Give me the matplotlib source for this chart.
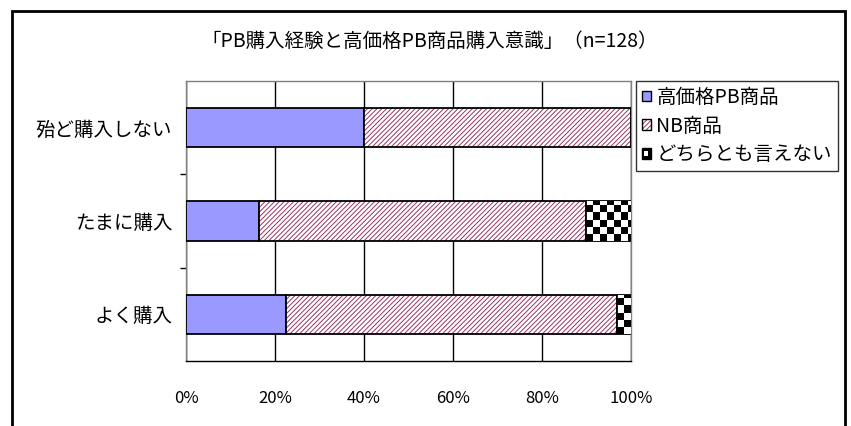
import numpy as np
import matplotlib
matplotlib.use("Agg")
import matplotlib.pyplot as plt
from matplotlib.patches import Patch, Rectangle
from matplotlib.legend_handler import HandlerTuple

plt.rcParams['font.family'] = ['Noto Sans CJK JP', 'DejaVu Sans']
plt.rcParams['hatch.linewidth'] = 0.7

# purchase frequency of PB goods (bottom -> top)
categories = ['よく購入', 'たまに購入', '殆ど購入しない']
high_pb = [22.5, 16.4, 40.0]
nb_goods = [74.4, 73.5, 60.0]
neither = [3.1, 10.1, 0.0]
series_labels = ['高価格PB商品', 'NB商品', 'どちらとも言えない']
xticks = [0, 20, 40, 60, 80, 100]
title = '「PB購入経験と高価格PB商品購入意識」（n=128）'

PB_COLOR = '#9999ff'
NB_HATCH = '#993366'
HATCH = '///////'

fig = plt.figure(figsize=(8.51, 4.26), dpi=100)
ax = fig.add_axes([186 / 851, 1 - 361 / 426, 445 / 851, 280 / 426])

y = np.arange(len(categories))
h = 0.42
left_nb = np.array(high_pb)
left_ot = left_nb + np.array(nb_goods)

ax.barh(y, high_pb, h, color=PB_COLOR, edgecolor='black', linewidth=1.3, zorder=3)
ax.barh(y, nb_goods, h, left=left_nb, facecolor='white', edgecolor=NB_HATCH,
        hatch=HATCH, linewidth=0, zorder=3)
ax.barh(y, nb_goods, h, left=left_nb, fill=False, edgecolor='black', linewidth=1.3, zorder=4)
ot_bars = ax.barh(y, neither, h, left=left_ot, facecolor='white', edgecolor='black',
                  linewidth=1.3, zorder=3)

ax.set_xlim(0, 100)
ax.set_ylim(-0.5, len(categories) - 0.5)

# checkerboard fill for the "neither" segments
cell_px = 7.0
ax_w_px = 445.0
ax_h_px = 280.0
cell_x = cell_px / ax_w_px * 100
cell_y = cell_px / ax_h_px * len(categories)
for bar in ot_bars:
    bw = bar.get_width()
    if bw <= 0:
        continue
    bx, by, bh = bar.get_x(), bar.get_y(), bar.get_height()
    nx = int(np.ceil(bw / cell_x))
    ny = int(np.ceil(bh / cell_y))
    board = (np.add.outer(np.arange(ny), np.arange(nx)) % 2).astype(float)
    im = ax.imshow(board, cmap='gray', vmin=0, vmax=1, interpolation='nearest',
                   extent=[bx, bx + nx * cell_x, by, by + ny * cell_y],
                   aspect='auto', origin='lower', zorder=3.5)
    im.set_clip_path(bar)
ax.set_xlim(0, 100)
ax.set_ylim(-0.5, len(categories) - 0.5)

ax.set_xticks(xticks)
ax.set_xticklabels([f'{t}%' for t in xticks], fontsize=12)
ax.tick_params(axis='x', length=0, pad=21)
ax.set_yticks(y)
ax.set_yticklabels(categories, fontsize=14)
ax.tick_params(axis='y', which='major', length=0, pad=10)
ax.set_yticks(np.arange(len(categories) - 1) + 0.5, minor=True)
ax.tick_params(axis='y', which='minor', length=4, width=1, color='black', direction='out')

ax.xaxis.grid(True, color='black', linewidth=1.0, zorder=1)
ax.set_axisbelow(True)
for side in ['left', 'top', 'right']:
    ax.spines[side].set_color('#808080')
ax.spines['bottom'].set_color('black')
for sp in ax.spines.values():
    sp.set_linewidth(1.0)


class CheckerHandler:
    def legend_artist(self, legend, orig_handle, fontsize, handlebox):
        x0, y0 = -handlebox.xdescent, -handlebox.ydescent
        w, hh = handlebox.width, handlebox.height
        box = Rectangle((x0, y0), w, hh, facecolor='black', edgecolor='black',
                        linewidth=1.0, transform=handlebox.get_transform())
        hole = Rectangle((x0 + w * 0.3, y0 + hh * 0.3), w * 0.4, hh * 0.4,
                         facecolor='white', edgecolor='none',
                         transform=handlebox.get_transform())
        handlebox.add_artist(box)
        handlebox.add_artist(hole)
        return box


h_pb = Patch(facecolor=PB_COLOR, edgecolor='black', linewidth=1.0)
h_nb = (Patch(facecolor='white', edgecolor=NB_HATCH, hatch=HATCH, linewidth=0),
        Patch(fill=False, edgecolor='black', linewidth=1.0))
h_ot = Patch(facecolor='black')

leg = fig.legend([h_pb, h_nb, h_ot], series_labels,
                 loc='upper left', bbox_to_anchor=(636 / 851, 1 - 81 / 426),
                 fontsize=14, frameon=True, fancybox=False, edgecolor='black',
                 handlelength=0.45, handleheight=0.45, handletextpad=0.3,
                 labelspacing=0.4, borderpad=0.3, borderaxespad=0,
                 handler_map={tuple: HandlerTuple(ndivide=1), h_ot: CheckerHandler()})
leg.get_frame().set_linewidth(1.0)

fig.text(0.505, 1 - 41 / 426, title, ha='center', va='center', fontsize=14)

# outer chart border (bottom edge runs off the figure)
fig.patches.append(Rectangle((12 / 851, -0.1), 833 / 851, 1 - 11 / 426 + 0.1,
                             transform=fig.transFigure, fill=False,
                             edgecolor='black', linewidth=2.0))

fig.savefig('out.png', dpi=100)
